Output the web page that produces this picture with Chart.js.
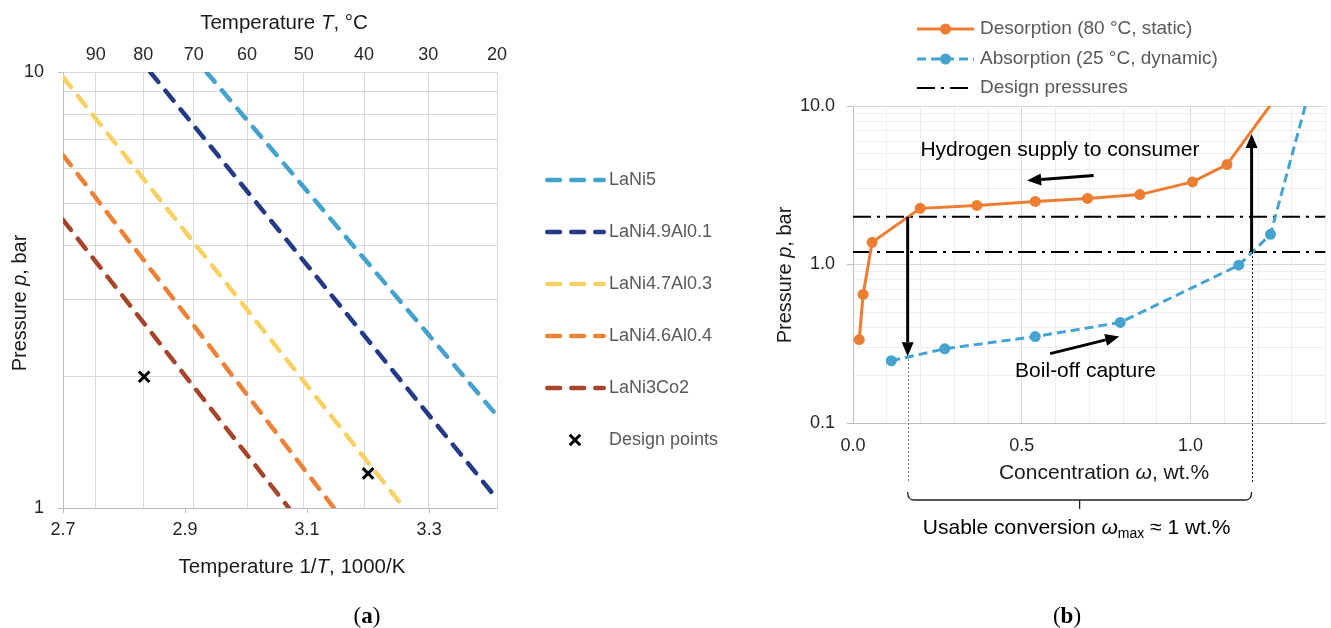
<!DOCTYPE html>
<html><head><meta charset="utf-8">
<script src="https://cdn.jsdelivr.net/npm/chart.js@4"></script>
<style>
html,body{margin:0;padding:0;background:#fff;}
#wrap{position:relative;width:1331px;height:628px;overflow:hidden;background:#fff;}
canvas{position:absolute;top:0;}
#ca{left:0;} #cb{left:760px;}
</style></head><body>
<div id="wrap"><canvas id="ca" width="760" height="628"></canvas><canvas id="cb" width="571" height="628"></canvas></div>
<script>
// ================= Panel (a) data: van 't Hoff lines =================
const alloyNames = ['LaNi5', 'LaNi4.9Al0.1', 'LaNi4.7Al0.3', 'LaNi4.6Al0.4', 'LaNi3Co2'];
const lani5InvT  = [2.935, 3.411]; const lani5P  = [10, 1.63];
const lani49InvT = [2.843, 3.411]; const lani49P = [10, 1.05];
const lani47InvT = [2.7, 3.259];   const lani47P = [9.73, 1];
const lani46InvT = [2.7, 3.144];   const lani46P = [6.45, 1];
const lani3InvT  = [2.7, 3.07];    const lani3P  = [4.58, 1];
const designInvT = [2.833, 3.2];   const designP = [2.0, 1.2];
const invTTicks = [2.7, 2.9, 3.1, 3.3];
const celsiusTicks = [90, 80, 70, 60, 50, 40, 30, 20];
const pressureTicksA = [1, 2, 3, 4, 5, 6, 7, 8, 9, 10];

// ================= Panel (b) data: isotherms =================
const desorptionW = [0.0185, 0.030, 0.0566, 0.199, 0.367, 0.540, 0.695, 0.850, 1.006, 1.108, 1.262];
const desorptionP = [0.336, 0.647, 1.38, 2.26, 2.36, 2.50, 2.61, 2.76, 3.32, 4.27, 12];
const absorptionW = [0.1135, 0.272, 0.540, 0.792, 1.143, 1.237, 1.350];
const absorptionP = [0.247, 0.294, 0.351, 0.431, 0.99, 1.55, 12];
const designPressures = [2.0, 1.2];
const concTicks = [0, 0.1, 0.2, 0.3, 0.4, 0.5, 0.6, 0.7, 0.8, 0.9, 1.0, 1.1, 1.2, 1.3, 1.4];
const concLabels = [0, 0.5, 1.0];
const pressureTicksB = [0.1, 0.2, 0.3, 0.4, 0.5, 0.6, 0.7, 0.8, 0.9, 1, 2, 3, 4, 5, 6, 7, 8, 9, 10];
const pressureLabelsB = [0.1, 1, 10];
// annotation arrows (data coordinates)
const releaseArrowW = [0.162, 0.162]; const releaseArrowP = [2.0, 0.264];
const chargeArrowW  = [1.181, 1.181]; const chargeArrowP  = [1.2, 6.66];
const supplyArrowW  = [0.713, 0.516]; const supplyArrowP  = [3.64, 3.39];
const captureArrowW = [0.584, 0.789]; const captureArrowP = [0.274, 0.351];
const supplyTextAt  = [0.613, 5.24];
const captureTextAt = [0.689, 0.211];

// ================= styles =================
const FONT = '"Liberation Sans", Arial, Helvetica, sans-serif';
const SERIF = '"Liberation Serif", "Times New Roman", serif';
const alloyColors = ['#45a2cd', '#243a87', '#f9d163', '#ec8237', '#a7452b'];
const ORANGE = '#ed7d31', BLUE = '#44a3cf';
const TICK = '#262626', TITLE = '#1a1a1a', LEG = '#595959';

function pts(xs, ys) { return xs.map((x, i) => ({ x: x, y: ys[i] })); }

function rich(ctx, segs, x, y, o) {
  o = o || {};
  const size = o.size || 20, align = o.align || 'center';
  ctx.save();
  ctx.translate(x, y); ctx.rotate(o.rot || 0);
  ctx.textBaseline = 'middle'; ctx.fillStyle = o.color || TITLE;
  const fontOf = s => (s.i ? 'italic ' : '') + (s.b ? 'bold ' : '') + (s.size || size) + 'px ' + (s.family || o.family || FONT);
  let total = 0;
  const ws = segs.map(s => { ctx.font = fontOf(s); const w = ctx.measureText(s.t).width; total += w; return w; });
  let cx = align === 'center' ? -total / 2 : (align === 'right' ? -total : 0);
  segs.forEach((s, k) => { ctx.font = fontOf(s); ctx.textAlign = 'left'; ctx.fillText(s.t, cx, s.dy || 0); cx += ws[k]; });
  ctx.restore();
}

function arrow(ctx, x1, y1, x2, y2, lw, hl, hw, color) {
  const a = Math.atan2(y2 - y1, x2 - x1);
  const bx = x2 - hl * Math.cos(a), by = y2 - hl * Math.sin(a);
  ctx.save();
  ctx.strokeStyle = color; ctx.fillStyle = color; ctx.lineWidth = lw; ctx.lineCap = 'butt'; ctx.setLineDash([]);
  ctx.beginPath(); ctx.moveTo(x1, y1); ctx.lineTo(bx, by); ctx.stroke();
  ctx.beginPath(); ctx.moveTo(x2, y2);
  ctx.lineTo(bx + hw / 2 * Math.sin(a), by - hw / 2 * Math.cos(a));
  ctx.lineTo(bx - hw / 2 * Math.sin(a), by + hw / 2 * Math.cos(a));
  ctx.closePath(); ctx.fill();
  ctx.restore();
}

Chart.defaults.font.family = FONT;
Chart.defaults.animation = false;

// ================= Chart (a) =================
const alloySeries = [[lani5InvT, lani5P], [lani49InvT, lani49P], [lani47InvT, lani47P], [lani46InvT, lani46P], [lani3InvT, lani3P]];
const invTMin = 2.7, invTMax = 1000 / (20 + 273.15);

const legendA = {
  id: 'legendA',
  afterDraw(chart) {
    const ctx = chart.ctx;
    ctx.save();
    alloyNames.forEach((n, i) => {
      const y = 180 + 52 * i;
      ctx.strokeStyle = alloyColors[i]; ctx.lineWidth = 4.5; ctx.lineCap = 'round';
      ctx.setLineDash([12.8, 11.2]);
      ctx.beginPath(); ctx.moveTo(547.25, y); ctx.lineTo(603.75, y); ctx.stroke();
      ctx.setLineDash([]);
      ctx.font = '18px ' + FONT; ctx.fillStyle = LEG; ctx.textBaseline = 'middle'; ctx.textAlign = 'left';
      ctx.fillText(n, 609, y);
    });
    const y = 440, cx = 575, h = 5.3;
    ctx.strokeStyle = '#000'; ctx.lineWidth = 3; ctx.lineCap = 'butt';
    ctx.beginPath(); ctx.moveTo(cx - h, y - h); ctx.lineTo(cx + h, y + h); ctx.moveTo(cx - h, y + h); ctx.lineTo(cx + h, y - h); ctx.stroke();
    ctx.font = '18px ' + FONT; ctx.fillStyle = LEG; ctx.textBaseline = 'middle'; ctx.textAlign = 'left';
    ctx.fillText('Design points', 609, y);
    ctx.restore();
    // titles
    rich(ctx, [{ t: 'Temperature ' }, { t: 'T', i: true }, { t: ', °C' }], 284, 23, { size: 20.5 });
    rich(ctx, [{ t: 'Temperature 1/' }, { t: 'T', i: true }, { t: ', 1000/K' }], 292, 567, { size: 20.5 });
    rich(ctx, [{ t: 'Pressure ' }, { t: 'p', i: true }, { t: ', bar' }], 20, 303, { size: 20, rot: -Math.PI / 2 });
    rich(ctx, [{ t: '(', family: SERIF }, { t: 'a', b: true, family: SERIF }, { t: ')', family: SERIF }], 367, 617, { size: 23, color: '#000' });
  }
};

new Chart(document.getElementById('ca'), {
  type: 'scatter',
  data: {
    datasets: alloyNames.map((n, i) => ({
      label: n, data: pts(alloySeries[i][0], alloySeries[i][1]), showLine: true,
      borderColor: alloyColors[i], backgroundColor: alloyColors[i], borderWidth: 4.5,
      borderDash: [12.8, 11.2], borderCapStyle: 'round', pointRadius: 0, fill: false, xAxisID: 'x', yAxisID: 'y'
    })).concat([{
      label: 'Design points', data: pts(designInvT, designP), showLine: false,
      pointStyle: 'crossRot', pointRadius: 7.5, borderWidth: 3, borderColor: '#000', backgroundColor: '#000', xAxisID: 'x', yAxisID: 'y'
    }])
  },
  options: {
    responsive: false, devicePixelRatio: 1, events: [],
    layout: { padding: { left: 0, top: 0, right: 263, bottom: 0 } },
    plugins: { legend: { display: false }, tooltip: { enabled: false } },
    scales: {
      x: {
        type: 'linear', position: 'bottom', min: invTMin, max: invTMax,
        afterBuildTicks: s => { s.ticks = invTTicks.map(v => ({ value: v })); },
        afterFit: s => { s.height = 120; s.paddingRight = 0; },
        ticks: { callback: v => Number(v).toFixed(1), color: TICK, font: { size: 18, family: FONT }, padding: 6, maxRotation: 0, autoSkip: false },
        grid: { drawOnChartArea: false, drawTicks: true, tickLength: 5, color: '#bfbfbf' },
        border: { display: true, color: '#bfbfbf' }
      },
      x2: {
        type: 'linear', position: 'top', min: invTMin, max: invTMax,
        afterBuildTicks: s => { s.ticks = celsiusTicks.map(c => ({ value: 1000 / (c + 273.15) })); },
        afterFit: s => { s.height = 72; s.paddingRight = 0; },
        ticks: { callback: (v, i) => String(celsiusTicks[i]), color: TICK, font: { size: 18, family: FONT }, padding: 6, maxRotation: 0, autoSkip: false },
        grid: { color: '#d9d9d9', drawTicks: false },
        border: { display: false }
      },
      y: {
        type: 'logarithmic', position: 'left', min: 1, max: 10,
        afterBuildTicks: s => { s.ticks = pressureTicksA.map(v => ({ value: v })); },
        afterFit: s => { s.width = 63; },
        ticks: { callback: v => (v === 1 || v === 10) ? String(v) : '', color: TICK, font: { size: 18, family: FONT }, padding: 14, autoSkip: false },
        grid: { color: '#d9d9d9', tickLength: 5, tickColor: c => (c.tick && (c.tick.value === 1 || c.tick.value === 10)) ? '#bfbfbf' : 'rgba(0,0,0,0)' },
        border: { display: true, color: '#bfbfbf' }
      }
    }
  },
  plugins: [legendA]
});

// ================= Chart (b) =================
const isMajorW = v => Math.abs(v / 0.5 - Math.round(v / 0.5)) < 1e-6;
const isMajorP = v => Math.abs(Math.log10(v) - Math.round(Math.log10(v))) < 1e-6;

const annotB = {
  id: 'annotB',
  afterDatasetsDraw(chart) {
    const ctx = chart.ctx, xs = chart.scales.x, ys = chart.scales.y, ca = chart.chartArea;
    const X = v => xs.getPixelForValue(v), Y = v => ys.getPixelForValue(v);
    // dotted guide lines down to the brace
    ctx.save();
    ctx.lineWidth = 1; ctx.setLineDash([2, 2]);
    ctx.strokeStyle = '#777';
    ctx.beginPath(); ctx.moveTo(Math.round(X(releaseArrowW[1])) + 0.5, Y(releaseArrowP[1]) + 3); ctx.lineTo(Math.round(X(releaseArrowW[1])) + 0.5, ca.bottom + 60); ctx.stroke();
    ctx.strokeStyle = '#111';
    ctx.beginPath(); ctx.moveTo(Math.round(X(chargeArrowW[0])) + 0.5, Y(chargeArrowP[0])); ctx.lineTo(Math.round(X(chargeArrowW[0])) + 0.5, ca.bottom + 60); ctx.stroke();
    ctx.restore();
    // brace
    const bx1 = X(releaseArrowW[0]), bx2 = X(chargeArrowW[0]), by = ca.bottom + 77, bm = (bx1 + bx2) / 2;
    ctx.save();
    ctx.strokeStyle = '#222'; ctx.lineWidth = 1.3; ctx.setLineDash([]);
    ctx.beginPath();
    ctx.moveTo(bx1, by - 8); ctx.quadraticCurveTo(bx1, by, bx1 + 6, by);
    ctx.lineTo(bx2 - 6, by); ctx.quadraticCurveTo(bx2, by, bx2, by - 8);
    ctx.moveTo(bm, by); ctx.lineTo(bm, by + 9);
    ctx.stroke();
    ctx.restore();
    // arrows
    arrow(ctx, X(releaseArrowW[0]), Y(releaseArrowP[0]), X(releaseArrowW[1]), Y(releaseArrowP[1]), 3, 14, 12, '#000');
    arrow(ctx, X(chargeArrowW[0]), Y(chargeArrowP[0]), X(chargeArrowW[1]), Y(chargeArrowP[1]), 3, 14, 12, '#000');
    arrow(ctx, X(supplyArrowW[0]), Y(supplyArrowP[0]), X(supplyArrowW[1]), Y(supplyArrowP[1]), 3, 14, 12, '#000');
    arrow(ctx, X(captureArrowW[0]), Y(captureArrowP[0]), X(captureArrowW[1]), Y(captureArrowP[1]), 3, 14, 12, '#000');
    // annotation texts
    rich(ctx, [{ t: 'Hydrogen supply to consumer' }], X(supplyTextAt[0]), Y(supplyTextAt[1]), { size: 21, color: '#000' });
    rich(ctx, [{ t: 'Boil-off capture' }], X(captureTextAt[0]), Y(captureTextAt[1]), { size: 21, color: '#000' });
    rich(ctx, [{ t: 'Usable conversion ' }, { t: 'ω', i: true }, { t: 'max', size: 14, dy: 6 }, { t: ' ≈ 1 wt.%' }], bm - 3, by + 28, { size: 21, color: '#000' });
  },
  afterDraw(chart) {
    const ctx = chart.ctx;
    // legend
    const rows = [29, 59, 88];
    ctx.save();
    // desorption
    ctx.strokeStyle = ORANGE; ctx.lineWidth = 3; ctx.setLineDash([]);
    ctx.beginPath(); ctx.moveTo(157, rows[0]); ctx.lineTo(214, rows[0]); ctx.stroke();
    ctx.fillStyle = ORANGE; ctx.beginPath(); ctx.arc(185.5, rows[0], 5.5, 0, 2 * Math.PI); ctx.fill();
    // absorption
    ctx.strokeStyle = BLUE; ctx.setLineDash([9, 5]);
    ctx.beginPath(); ctx.moveTo(157, rows[1]); ctx.lineTo(214, rows[1]); ctx.stroke();
    ctx.setLineDash([]);
    ctx.fillStyle = BLUE; ctx.beginPath(); ctx.arc(185.5, rows[1], 5.5, 0, 2 * Math.PI); ctx.fill();
    // design pressures
    ctx.strokeStyle = '#000'; ctx.lineWidth = 2; ctx.setLineDash([18, 6, 3, 6]);
    ctx.beginPath(); ctx.moveTo(157, rows[2]); ctx.lineTo(208, rows[2]); ctx.stroke();
    ctx.setLineDash([]);
    ctx.font = '19px ' + FONT; ctx.fillStyle = LEG; ctx.textBaseline = 'middle'; ctx.textAlign = 'left';
    ctx.fillText('Desorption (80 °C, static)', 220, rows[0]);
    ctx.fillText('Absorption (25 °C, dynamic)', 220, rows[1]);
    ctx.fillText('Design pressures', 220, rows[2]);
    ctx.restore();
    rich(ctx, [{ t: 'Concentration ' }, { t: 'ω', i: true }, { t: ', wt.%' }], 344, 473, { size: 21 });
    rich(ctx, [{ t: 'Pressure ' }, { t: 'p', i: true }, { t: ', bar' }], 25, 275, { size: 20, rot: -Math.PI / 2 });
    rich(ctx, [{ t: '(', family: SERIF }, { t: 'b', b: true, family: SERIF }, { t: ')', family: SERIF }], 307, 617, { size: 23, color: '#000' });
  }
};

new Chart(document.getElementById('cb'), {
  type: 'scatter',
  data: {
    datasets: [
      { label: 'Desorption (80 °C, static)', data: pts(desorptionW, desorptionP), showLine: true,
        borderColor: ORANGE, backgroundColor: ORANGE, borderWidth: 3, pointRadius: 5.5, pointBorderWidth: 0, pointBackgroundColor: ORANGE },
      { label: 'Absorption (25 °C, dynamic)', data: pts(absorptionW, absorptionP), showLine: true,
        borderColor: BLUE, backgroundColor: BLUE, borderWidth: 3, borderDash: [9, 5], pointRadius: 5.5, pointBorderWidth: 0, pointBackgroundColor: BLUE },
      { label: 'Design pressures', data: pts([0, 1.4], [designPressures[0], designPressures[0]]), showLine: true,
        borderColor: '#000', borderWidth: 2, borderDash: [18, 6, 3, 6], pointRadius: 0 },
      { label: 'Design pressures (low)', data: pts([0, 1.4], [designPressures[1], designPressures[1]]), showLine: true,
        borderColor: '#000', borderWidth: 2, borderDash: [18, 6, 3, 6], pointRadius: 0 }
    ]
  },
  options: {
    responsive: false, devicePixelRatio: 1, events: [],
    layout: { padding: { left: 0, top: 106, right: 1, bottom: 0 } },
    plugins: { legend: { display: false }, tooltip: { enabled: false } },
    scales: {
      x: {
        type: 'linear', position: 'bottom', min: 0, max: 1.4,
        afterBuildTicks: s => { s.ticks = concTicks.map(v => ({ value: v })); },
        afterFit: s => { s.height = 205; s.paddingRight = 0; },
        ticks: { callback: v => concLabels.some(l => Math.abs(l - v) < 1e-9) ? Number(v).toFixed(1) : '', color: TICK, font: { size: 18, family: FONT }, padding: 12, maxRotation: 0, autoSkip: false },
        grid: { drawTicks: false, color: c => (c.tick && isMajorW(c.tick.value)) ? '#d9d9d9' : '#eeeeee' },
        border: { display: true, color: '#bfbfbf' }
      },
      y: {
        type: 'logarithmic', position: 'left', min: 0.1, max: 10,
        afterBuildTicks: s => { s.ticks = pressureTicksB.map(v => ({ value: v })); },
        afterFit: s => { s.width = 93; },
        ticks: { callback: v => pressureLabelsB.some(l => Math.abs(l - v) < 1e-9) ? Number(v).toFixed(1) : '', color: TICK, font: { size: 18, family: FONT }, padding: 12, autoSkip: false },
        grid: { tickLength: 6, color: c => (c.tick && isMajorP(c.tick.value)) ? '#d9d9d9' : '#eeeeee',
                tickColor: c => (c.tick && isMajorP(c.tick.value)) ? '#bfbfbf' : 'rgba(0,0,0,0)' },
        border: { display: true, color: '#bfbfbf' }
      }
    }
  },
  plugins: [annotB]
});
</script>
</body></html>
